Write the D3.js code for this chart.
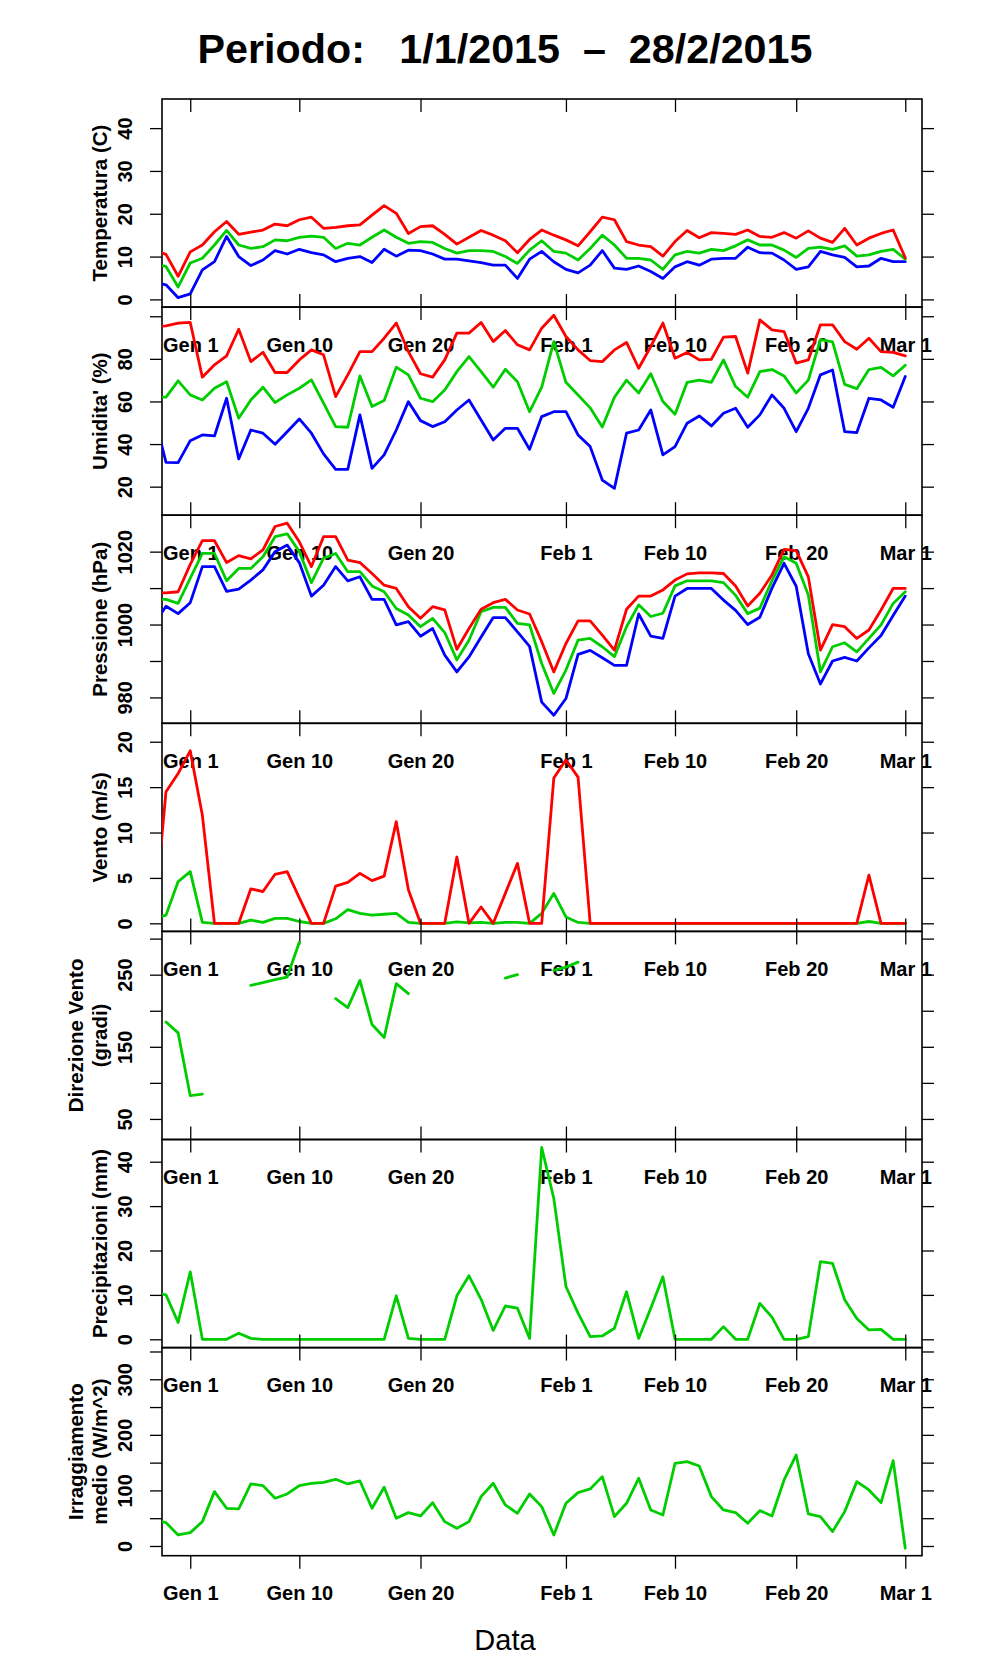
<!DOCTYPE html>
<html>
<head>
<meta charset="utf-8">
<script src="https://cdn.jsdelivr.net/npm/d3@7"></script>
<style>
  body { margin: 0; background: #fff; }
  text { font-family: "Liberation Sans", Arial, Helvetica, sans-serif; }
</style>
</head>
<body>
<svg id="chart" width="996" height="1680"></svg>
<script>
// daily values from 29 Dec 2014 to 1 Mar 2015 (first day falls outside the plot and is clipped)
var startDay = "2014-12-29", endDay = "2015-03-01";

var tickDates  = ["2015-01-01", "2015-01-10", "2015-01-20", "2015-02-01", "2015-02-10", "2015-02-20", "2015-03-01"];
var tickLabels = ["Gen 1", "Gen 10", "Gen 20", "Feb 1", "Feb 10", "Feb 20", "Mar 1"];

var tempMax = [11.5,10.5,5.4,11.1,12.7,15.8,18.2,15.2,15.7,16.2,17.6,17.2,18.6,19.2,16.6,16.8,17.2,17.4,19.7,21.9,20.1,15.4,17,17.2,15.2,12.9,14.5,16.1,15,13.7,10.9,14,16.2,15,13.9,12.5,15.8,19.2,18.6,13.5,12.7,12.3,10.1,13.5,16.1,14.4,15.6,15.4,15.2,16.2,14.7,14.5,15.6,14.3,16,14.3,13.3,16.6,12.7,14.3,15.4,16.2,9.7];
var tempMed = [8.3,7.7,2.9,8.5,9.6,12.7,16.1,12.7,11.9,12.3,13.9,13.7,14.5,14.8,14.5,11.9,13.1,12.7,14.5,16.2,14.5,13.1,13.5,13.3,11.9,10.8,11.4,11.4,11.2,10,8.4,11.5,13.7,11.2,10.8,9.2,11.9,15,12.7,9.6,9.6,9.2,7,10.4,11.2,10.8,11.7,11.4,12.5,13.9,12.7,12.7,11.5,9.8,11.9,12.2,11.7,12.5,10.1,10.4,11.2,11.7,9.4];
var tempMin = [4,3.4,0.4,1.3,6.9,8.8,14.7,10,7.9,9.2,11.4,10.6,11.7,10.9,10.4,8.8,9.6,10,8.6,11.7,10.1,11.5,11.4,10.6,9.4,9.4,9,8.6,8,8,4.9,9.4,11.2,8.8,7,6.2,8,11.4,7.3,7,7.8,6.5,4.9,7.6,8.8,8,9.4,9.6,9.6,12.2,10.9,10.8,9.2,7,7.6,11.2,10.4,9.8,7.6,7.8,9.6,8.8,8.8];

var umidMax = [95,95.5,96.8,97.1,71.4,77.2,81.4,93.9,78.7,83.1,73.6,73.6,79.5,84.2,81.9,62.3,72.5,83.4,83.4,89.7,96.8,83.4,73,71.4,79.5,92.1,92.1,97.1,88.1,93.3,86.6,84.2,94.4,100.5,90.5,84.2,79.2,78.7,84.2,87.7,75.6,85.8,96.8,80.3,83,79.5,79.8,90.2,90.5,73.3,98.3,93.6,92.8,78,79.5,96,96,88.1,84.5,89.7,83.4,83,81.4];
var umidMed = [62,62,69.7,63.1,60.7,66.2,69.3,52.1,60.7,66.7,59.5,63.1,66.2,70.1,59.2,48.2,47.9,72,57.6,60.4,76.1,72.5,61.5,59.9,65.4,74,81.1,74,66.7,75.1,69.3,55.2,66.7,88.1,69,63,57,48,62,70,64,73,60,54,69,70,69,79.5,67,62,74,75,72,64,70,89,88,68,66,75,76,72,77];
var umidMin = [54,31.4,31.3,41.6,44.3,43.8,61.5,33,46.6,45.1,39.9,45.8,51.8,45.1,35.4,28.1,28.1,53.7,28.6,34.9,46.6,59.9,51,48.2,50.5,56,60.7,51.3,41.9,47.4,47.4,37.5,52.9,55.2,55.2,44.3,38.8,23.1,19.2,45.1,46.6,56,34.9,38.8,49.8,53.2,48.5,54.5,56.8,47.9,53.7,63.1,56.8,45.8,56.8,72.5,74.8,45.8,45.4,61.5,60.7,57.3,71.7];

var pressMax = [1008.7,1008.7,1009,1016.5,1023,1023,1017,1018.9,1018,1020.5,1026.9,1027.8,1022.7,1015.9,1024.1,1024.1,1017.7,1017,1014,1010.8,1009.9,1004.9,1001.7,1004.9,1004,993.2,998.9,1004.2,1006,1006.9,1004,1002.9,995.3,987,994.8,1001,1001,997.1,993,1004.2,1007.8,1007.8,1009.5,1012.2,1013.9,1014.2,1014.2,1014,1010.6,1005.1,1008.6,1013.6,1020.6,1020.3,1013.1,993,1000,999.4,996.2,998.5,1004,1009.9,1009.9];
var pressMed = [1006.9,1006.9,1005.8,1012.7,1019.5,1019.5,1012,1015.4,1015.4,1018.6,1024.1,1024.9,1020,1011.5,1018.2,1019.5,1014.5,1014.5,1010.6,1009,1004.4,1002.6,999.4,1001.7,997.8,990.3,995.7,1003.5,1004.7,1004.7,1000.3,999.9,989.3,981.1,987.5,995.7,996.2,993.9,991.2,999.4,1005.4,1002.2,1003.1,1010.6,1012,1012,1012,1011.5,1008,1003,1004.5,1012,1018.6,1016.8,1008.1,987,993.9,995,992.5,996.2,999.9,1005.8,1009];
var pressMin = [1000,1005,1003,1006,1015.9,1015.9,1009.1,1009.7,1012.2,1015,1020,1021.8,1017,1007.8,1010.8,1015.9,1012,1013.1,1006.9,1006.9,999.9,1000.8,996.8,998.9,991.6,987,991.1,996.6,1001.9,1001.9,998,994,978.7,975.1,979.7,991.8,992.9,990.9,988.8,988.8,1002.9,996.8,996.2,1007.8,1009.9,1009.9,1009.9,1006.7,1003.9,1000,1002,1010,1016.8,1010.5,992,983.7,990,991,990,993.6,997,1002.5,1007.8];

var ventoMax = [0,14.5,16.5,19,11.9,0,0,0,3.8,3.5,5.4,5.7,2.8,0,0,4.1,4.5,5.5,4.7,5.2,11.2,3.7,0,0,0,7.3,0,1.8,0,3.3,6.6,0,0,16,18,16.1,0,0,0,0,0,0,0,0,0,0,0,0,0,0,0,0,0,0,0,0,0,0,0,5.3,0,0,0];
var ventoMed = [0.5,0.9,4.6,5.7,0.1,0,0,0,0.35,0.1,0.55,0.55,0.2,0,0,0.5,1.5,1.1,0.9,1,1.1,0.1,0,0,0,0.15,0.05,0.1,0,0.1,0.1,0,1.1,3.3,0.7,0.1,0,0,0,0,0,0,0,0,0,0,0,0,0,0,0,0,0,0,0,0,0,0,0,0.2,0,0,0];

var direzione = [null,184.5,169.3,82.2,84.5,null,null,null,235.2,239,243,246.7,295,null,null,216.8,204.4,242.1,180.9,162.9,237.6,223.7,null,null,null,null,null,null,null,245.3,250,null,null,256,260.5,267.4,null,null,null,null,null,null,null,null,null,null,null,null,null,null,null,null,null,null,null,null,null,null,null,null,null,null,null];

var pioggia = [10.5,10,3.8,15.2,0,0,0,1.35,0.2,0,0,0,0,0,0,0,0,0,0,0,9.8,0.2,0,0,0,9.8,14.3,9,2,7.5,7,0.2,43.2,31.7,11.9,5.9,0.6,0.75,2.5,10.7,0.2,7,14.1,0,0,0,0,2.85,0,0,8.1,5,0,0,0.6,17.5,17.1,8.9,4.7,2.1,2.25,0,0];

var irragg = [46.8,42,19.8,24,43.8,97.8,67.8,66.6,111.6,108.6,85.8,93.6,108.6,112.8,114.6,120,111.6,117,67.8,105.6,49.8,60,54,78,43.8,31.8,43.8,88.8,112.8,73.8,58.8,93.6,70.8,19.8,76.8,96,102.6,124.8,52.8,76.8,121.8,64.8,55.8,148.8,151.8,144,88.8,64.8,60,40.8,63.6,54,118.8,163.8,57.6,52.8,25.8,61.8,115.8,100.8,78,153.6,-4];

var RED = "#ff0000", GREEN = "#00cd00", BLUE = "#0000ff";

var panels = [
  { ylab: ["Temperatura (C)"], domain: [-1.8, 46.8], ticks: [0, 10, 20, 30, 40], labels: [0, 10, 20, 30, 40],
    series: [[tempMin, BLUE], [tempMed, GREEN], [tempMax, RED]] },
  { ylab: ["Umidita' (%)"], domain: [6.6, 104.3], ticks: [20, 40, 60, 80, 100], labels: [20, 40, 60, 80],
    series: [[umidMin, BLUE], [umidMed, GREEN], [umidMax, RED]] },
  { ylab: ["Pressione (hPa)"], domain: [972.9, 1030], ticks: [980, 990, 1000, 1010, 1020], labels: [980, 1000, 1020],
    series: [[pressMin, BLUE], [pressMed, GREEN], [pressMax, RED]] },
  { ylab: ["Vento (m/s)"], domain: [-0.89, 22.03], ticks: [0, 5, 10, 15, 20], labels: [0, 5, 10, 15, 20],
    series: [[ventoMed, GREEN], [ventoMax, RED]] },
  { ylab: ["Direzione Vento", "(gradi)"], domain: [21.5, 310], ticks: [50, 100, 150, 200, 250, 300], labels: [50, 150, 250],
    series: [[direzione, GREEN]] },
  { ylab: ["Precipitazioni (mm)"], domain: [-1.87, 45], ticks: [0, 10, 20, 30, 40], labels: [0, 10, 20, 30, 40],
    series: [[pioggia, GREEN]] },
  { ylab: ["Irraggiamento", "medio (W/m^2)"], domain: [-17.5, 357], ticks: [0, 50, 100, 150, 200, 250, 300, 350], labels: [0, 100, 200, 300],
    series: [[irragg, GREEN]] }
];

var days = d3.utcDay.range(new Date(startDay), d3.utcDay.offset(new Date(endDay), 1));
var ticks = tickDates.map(function (d) { return new Date(d); });

var plotLeft = 162, plotRight = 922, plotTop = 99, panelH = 208.1;
var FONT = '"Liberation Sans", Arial, Helvetica, sans-serif';
var DAY = 864e5;

var x = d3.scaleUtc()
    .domain([new Date(+new Date("2015-01-01") - 2.33 * DAY), new Date(+new Date("2015-03-01") + 1.38 * DAY)])
    .range([plotLeft, plotRight]);

var svg = d3.select("#chart");
var defs = svg.append("defs");

// title and x label
svg.append("text")
    .attr("x", 505).attr("y", 63)
    .attr("text-anchor", "middle")
    .attr("font-size", 41).attr("font-weight", "bold")
    .attr("textLength", 615).attr("lengthAdjust", "spacingAndGlyphs")
    .style("white-space", "pre")
    .text("Periodo:   1/1/2015  \u2013  28/2/2015");

svg.append("text")
    .attr("x", 505).attr("y", 1650)
    .attr("text-anchor", "middle")
    .attr("font-size", 29)
    .text("Data");

function styleAxis(sel) {
    sel.attr("font-family", FONT).attr("font-size", 20).attr("font-weight", "bold");
    sel.select(".domain").remove();
    sel.selectAll(".tick line").attr("stroke", "#000").attr("stroke-width", 1.3);
}

panels.forEach(function (p, i) {
    var top = plotTop + i * panelH, bottom = top + panelH;
    var y = d3.scaleLinear().domain(p.domain).range([bottom, top]);
    var g = svg.append("g");

    defs.append("clipPath").attr("id", "clip" + i)
      .append("rect")
        .attr("x", plotLeft).attr("y", top)
        .attr("width", plotRight - plotLeft).attr("height", panelH);

    // left axis with rotated labels
    var gl = g.append("g")
        .attr("transform", "translate(" + plotLeft + ",0)")
        .call(d3.axisLeft(y).tickValues(p.ticks).tickSize(12)
            .tickFormat(function (d) { return p.labels.indexOf(d) >= 0 ? d : ""; }));
    styleAxis(gl);
    gl.selectAll(".tick text")
        .attr("x", 0).attr("y", -30.5).attr("dy", null)
        .attr("text-anchor", "middle")
        .attr("transform", "rotate(-90)");

    // right axis, ticks only
    var gr = g.append("g")
        .attr("transform", "translate(" + plotRight + ",0)")
        .call(d3.axisRight(y).tickValues(p.ticks).tickSize(12).tickFormat(""));
    styleAxis(gr);

    // top ticks: inward on the first panel, upward elsewhere
    var gt = g.append("g")
        .attr("transform", "translate(0," + top + ")")
        .call(d3.axisTop(x).tickValues(ticks).tickSize(i === 0 ? -13 : 13).tickFormat(""));
    styleAxis(gt);

    // bottom ticks and date labels
    var gb = g.append("g")
        .attr("transform", "translate(0," + bottom + ")")
        .call(d3.axisBottom(x).tickValues(ticks).tickSize(13)
            .tickFormat(function (d, j) { return tickLabels[j]; }));
    styleAxis(gb);
    gb.selectAll(".tick text").attr("y", 44.5).attr("dy", null);

    // box
    g.append("rect")
        .attr("x", plotLeft).attr("y", top)
        .attr("width", plotRight - plotLeft).attr("height", panelH)
        .attr("fill", "none").attr("stroke", "#000").attr("stroke-width", 1.6);

    // y title
    var cy = (top + bottom) / 2;
    var base = p.ylab.length === 1 ? [107] : [82.5, 107];
    p.ylab.forEach(function (t, k) {
        g.append("text")
            .attr("transform", "translate(" + base[k] + "," + cy + ") rotate(-90)")
            .attr("text-anchor", "middle")
            .attr("font-size", 20.5).attr("font-weight", "bold")
            .text(t);
    });

    // series
    var line = d3.line()
        .defined(function (d) { return d != null; })
        .x(function (d, j) { return x(days[j]); })
        .y(function (d) { return y(d); });

    var gs = g.append("g").attr("clip-path", "url(#clip" + i + ")");
    p.series.forEach(function (s) {
        gs.append("path")
            .datum(s[0])
            .attr("d", line)
            .attr("fill", "none")
            .attr("stroke", s[1])
            .attr("stroke-width", 2.8)
            .attr("stroke-linejoin", "round")
            .attr("stroke-linecap", "round");
    });
});
</script>
</body>
</html>
